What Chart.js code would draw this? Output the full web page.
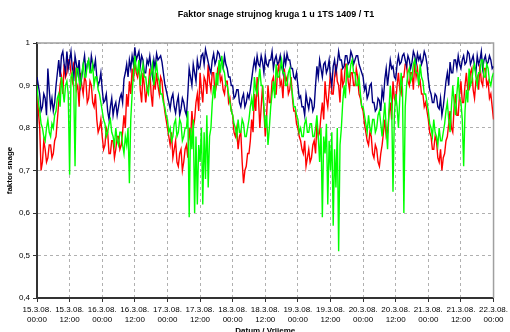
<!DOCTYPE html>
<html>
<head>
<meta charset="utf-8">
<title>Faktor snage</title>
<script src="https://cdn.jsdelivr.net/npm/chart.js@4.4.0/dist/chart.umd.min.js"></script>
<style>
  html, body { margin: 0; padding: 0; background: #fff; overflow: hidden; }
  #chart { display: block; }
</style>
</head>
<body>
<canvas id="chart" width="510" height="338"></canvas>
<script>
const chartTitle = 'Faktor snage strujnog kruga 1 u 1TS 1409 / T1';
const xTitle = 'Datum / Vrijeme';
const yTitle = 'faktor snage';

// x ticks every 12 h, from 15.3.08. 00:00 to 22.3.08. 00:00
const dayLabels = ['15.3.08.', '15.3.08.', '16.3.08.', '16.3.08.', '17.3.08.', '17.3.08.', '18.3.08.', '18.3.08.',
  '19.3.08.', '19.3.08.', '20.3.08.', '20.3.08.', '21.3.08.', '21.3.08.', '22.3.08.'];
const timeLabels = ['00:00', '12:00', '00:00', '12:00', '00:00', '12:00', '00:00', '12:00',
  '00:00', '12:00', '00:00', '12:00', '00:00', '12:00', '00:00'];
const yTickLabels = ['0,4', '0,5', '0,6', '0,7', '0,8', '0,9', '1'];

// readings every 30 min, one row per day
const stepHours = 0.5;
const blueValues = [
  0.92,0.90, 0.88,0.84, 0.85,0.88, 0.87,0.83, 0.94,0.89, 0.85,0.87, 0.84,0.86, 0.90,0.93, 0.96,0.92, 0.97,0.98, 0.95,0.93, 0.98,0.94, 0.96,0.98, 0.94,0.91, 0.97,0.95, 0.93,0.96, 0.90,0.92, 0.95,0.97, 0.93,0.95, 0.96,0.93, 0.97,0.95, 0.94,0.96, 0.92,0.90, 0.91,0.93,
  0.89,0.86, 0.865,0.88, 0.84,0.82, 0.85,0.87, 0.83,0.85, 0.86,0.83, 0.85,0.87, 0.88,0.86, 0.915,0.93, 0.95,0.92, 0.96,0.94, 0.97,0.95, 0.99,0.96, 0.97,0.98, 0.945,0.97, 0.96,0.93, 0.93,0.96, 0.95,0.97, 0.94,0.92, 0.96,0.94, 0.975,0.96, 0.965,0.97, 0.955,0.93, 0.905,0.89,
  0.875,0.86, 0.845,0.87, 0.88,0.85, 0.835,0.86, 0.875,0.83, 0.845,0.87, 0.86,0.84, 0.83,0.88, 0.94,0.92, 0.90,0.95, 0.93,0.91, 0.96,0.94, 0.945,0.97, 0.975,0.95, 0.985,0.97, 0.955,0.94, 0.93,0.96, 0.975,0.95, 0.96,0.98, 0.975,0.96, 0.955,0.94, 0.97,0.95, 0.94,0.92, 0.92,0.90,
  0.90,0.87, 0.875,0.89, 0.89,0.86, 0.85,0.87, 0.88,0.85, 0.86,0.88, 0.87,0.89, 0.915,0.94, 0.96,0.94, 0.97,0.95, 0.945,0.97, 0.955,0.93, 0.97,0.95, 0.945,0.96, 0.96,0.98, 0.94,0.96, 0.97,0.95, 0.955,0.97, 0.945,0.93, 0.97,0.95, 0.975,0.96, 0.96,0.94, 0.94,0.92, 0.915,0.93,
  0.90,0.87, 0.875,0.85, 0.85,0.83, 0.88,0.86, 0.845,0.87, 0.865,0.84, 0.85,0.90, 0.945,0.92, 0.96,0.94, 0.92,0.95, 0.955,0.93, 0.94,0.96, 0.92,0.90, 0.945,0.96, 0.93,0.95, 0.98,0.96, 0.96,0.94, 0.945,0.97, 0.97,0.95, 0.955,0.98, 0.97,0.95, 0.96,0.97, 0.97,0.95, 0.94,0.93,
  0.92,0.89, 0.90,0.87, 0.88,0.90, 0.905,0.86, 0.86,0.84, 0.845,0.87, 0.865,0.84, 0.89,0.87, 0.915,0.94, 0.90,0.93, 0.96,0.94, 0.945,0.92, 0.915,0.95, 0.97,0.95, 0.955,0.97, 0.975,0.96, 0.945,0.97, 0.96,0.94, 0.955,0.98, 0.97,0.95, 0.975,0.96, 0.97,0.95, 0.96,0.98, 0.97,0.95,
  0.915,0.89, 0.88,0.86, 0.86,0.88, 0.875,0.85, 0.845,0.87, 0.83,0.85, 0.88,0.91, 0.93,0.90, 0.955,0.93, 0.93,0.96, 0.96,0.94, 0.97,0.95, 0.94,0.96, 0.97,0.95, 0.955,0.98, 0.975,0.95, 0.96,0.97, 0.945,0.93, 0.97,0.95, 0.96,0.98, 0.94,0.96, 0.97,0.95, 0.955,0.97, 0.96,0.94,
  0.945
];
const redValues = [
  0.89,0.84, 0.80,0.70, 0.72,0.77, 0.75,0.72, 0.73,0.76, 0.76,0.73, 0.74,0.77, 0.78,0.82, 0.86,0.90, 0.92,0.88, 0.95,0.92, 0.93,0.96, 0.96,0.93, 0.91,0.95, 0.94,0.89, 0.90,0.85, 0.93,0.90, 0.88,0.92, 0.91,0.86, 0.87,0.91, 0.90,0.86, 0.85,0.88, 0.82,0.79, 0.80,0.82,
  0.78,0.75, 0.76,0.80, 0.79,0.74, 0.74,0.77, 0.77,0.73, 0.75,0.78, 0.78,0.75, 0.76,0.79, 0.83,0.80, 0.88,0.85, 0.91,0.88, 0.94,0.91, 0.96,0.93, 0.92,0.95, 0.89,0.86, 0.93,0.90, 0.86,0.89, 0.90,0.94, 0.88,0.85, 0.92,0.89, 0.93,0.90, 0.88,0.92, 0.91,0.87, 0.84,0.82,
  0.80,0.78, 0.76,0.79, 0.73,0.75, 0.77,0.72, 0.71,0.74, 0.75,0.70, 0.72,0.75, 0.76,0.73, 0.80,0.77, 0.84,0.80, 0.82,0.86, 0.88,0.84, 0.93,0.89, 0.86,0.92, 0.91,0.88, 0.95,0.91, 0.89,0.93, 0.93,0.88, 0.90,0.94, 0.95,0.91, 0.92,0.89, 0.88,0.91, 0.91,0.86, 0.87,0.84,
  0.83,0.79, 0.78,0.80, 0.75,0.78, 0.79,0.72, 0.67,0.70, 0.71,0.74, 0.74,0.77, 0.82,0.79, 0.88,0.84, 0.92,0.87, 0.80,0.85, 0.90,0.84, 0.78,0.83, 0.90,0.86, 0.86,0.91, 0.92,0.88, 0.88,0.93, 0.95,0.90, 0.91,0.87, 0.94,0.91, 0.92,0.88, 0.89,0.92, 0.87,0.84, 0.84,0.81,
  0.80,0.78, 0.77,0.75, 0.74,0.77, 0.71,0.73, 0.75,0.72, 0.73,0.76, 0.77,0.74, 0.81,0.78, 0.79,0.83, 0.86,0.82, 0.91,0.87, 0.85,0.89, 0.93,0.88, 0.88,0.92, 0.95,0.91, 0.90,0.86, 0.94,0.90, 0.91,0.95, 0.95,0.91, 0.89,0.93, 0.93,0.90, 0.90,0.94, 0.92,0.88, 0.87,0.85,
  0.84,0.81, 0.79,0.77, 0.76,0.79, 0.78,0.74, 0.73,0.76, 0.75,0.72, 0.71,0.74, 0.76,0.79, 0.82,0.78, 0.79,0.83, 0.86,0.82, 0.91,0.87, 0.86,0.90, 0.93,0.89, 0.88,0.92, 0.92,0.95, 0.95,0.91, 0.90,0.93, 0.93,0.89, 0.96,0.92, 0.94,0.90, 0.91,0.88, 0.88,0.85, 0.86,0.84,
  0.82,0.79, 0.78,0.75, 0.75,0.78, 0.77,0.73, 0.72,0.75, 0.70,0.73, 0.74,0.77, 0.78,0.81, 0.84,0.80, 0.79,0.85, 0.88,0.83, 0.83,0.88, 0.91,0.86, 0.86,0.90, 0.93,0.89, 0.89,0.93, 0.94,0.89, 0.87,0.91, 0.92,0.89, 0.95,0.91, 0.90,0.94, 0.94,0.90, 0.91,0.87, 0.88,0.85,
  0.82
];
const greenValues = [
  0.90,0.86, 0.84,0.81, 0.80,0.78, 0.77,0.80, 0.82,0.79, 0.78,0.81, 0.80,0.83, 0.84,0.87, 0.88,0.85, 0.92,0.89, 0.86,0.90, 0.91,0.88, 0.69,0.92, 0.93,0.90, 0.71,0.94, 0.94,0.91, 0.90,0.93, 0.95,0.92, 0.92,0.95, 0.96,0.93, 0.93,0.95, 0.90,0.92, 0.92,0.89, 0.88,0.86,
  0.84,0.82, 0.81,0.78, 0.79,0.81, 0.82,0.79, 0.78,0.76, 0.80,0.77, 0.76,0.79, 0.79,0.76, 0.74,0.78, 0.76,0.80, 0.67,0.82, 0.88,0.93, 0.97,0.94, 0.93,0.96, 0.90,0.93, 0.95,0.92, 0.92,0.89, 0.88,0.92, 0.93,0.95, 0.90,0.93, 0.95,0.92, 0.91,0.88, 0.88,0.86, 0.85,0.83,
  0.82,0.79, 0.80,0.77, 0.78,0.81, 0.82,0.78, 0.79,0.82, 0.81,0.77, 0.78,0.80, 0.80,0.84, 0.59,0.80, 0.75,0.82, 0.60,0.78, 0.62,0.76, 0.72,0.80, 0.62,0.79, 0.68,0.83, 0.66,0.78, 0.80,0.86, 0.90,0.87, 0.93,0.90, 0.96,0.93, 0.97,0.94, 0.93,0.90, 0.90,0.88, 0.86,0.84,
  0.83,0.81, 0.80,0.78, 0.82,0.79, 0.79,0.82, 0.81,0.78, 0.78,0.80, 0.82,0.85, 0.87,0.84, 0.92,0.89, 0.88,0.91, 0.94,0.90, 0.90,0.85, 0.80,0.83, 0.76,0.80, 0.85,0.88, 0.91,0.87, 0.95,0.92, 0.92,0.94, 0.96,0.93, 0.93,0.90, 0.90,0.93, 0.94,0.90, 0.88,0.85, 0.85,0.83,
  0.82,0.79, 0.80,0.78, 0.78,0.81, 0.82,0.79, 0.79,0.81, 0.81,0.78, 0.78,0.80, 0.83,0.78, 0.72,0.80, 0.59,0.78, 0.74,0.81, 0.62,0.77, 0.70,0.79, 0.57,0.75, 0.66,0.80, 0.51,0.76, 0.80,0.86, 0.90,0.87, 0.95,0.92, 0.92,0.95, 0.96,0.93, 0.93,0.90, 0.90,0.92, 0.88,0.85,
  0.85,0.83, 0.81,0.79, 0.83,0.80, 0.79,0.82, 0.82,0.79, 0.80,0.83, 0.84,0.81, 0.78,0.82, 0.86,0.80, 0.75,0.84, 0.90,0.86, 0.65,0.83, 0.88,0.85, 0.80,0.87, 0.93,0.89, 0.60,0.85, 0.90,0.93, 0.94,0.91, 0.92,0.95, 0.96,0.93, 0.93,0.90, 0.95,0.92, 0.91,0.88, 0.88,0.86,
  0.84,0.81, 0.80,0.78, 0.82,0.79, 0.78,0.76, 0.80,0.77, 0.77,0.79, 0.81,0.84, 0.86,0.82, 0.79,0.85, 0.90,0.86, 0.83,0.88, 0.92,0.87, 0.86,0.82, 0.71,0.84, 0.89,0.86, 0.94,0.90, 0.91,0.94, 0.95,0.92, 0.90,0.93, 0.93,0.96, 0.96,0.92, 0.92,0.95, 0.94,0.91, 0.90,0.92,
  0.93
];

const fontFamily = '"Liberation Sans", Arial, sans-serif';
const toPoints = values => values.map((v, i) => ({ x: i * stepHours, y: v }));

// chart title sits a bit right of centre, like in the original
const titlePlugin = {
  id: 'chartTitle',
  afterDraw(chart) {
    const ctx = chart.ctx;
    ctx.save();
    ctx.font = 'bold 9px ' + fontFamily;
    ctx.fillStyle = '#000';
    ctx.textAlign = 'center';
    ctx.textBaseline = 'middle';
    ctx.fillText(chartTitle, 276, 15);
    ctx.restore();
  }
};

// grey frame on the top and right of the plot area
const framePlugin = {
  id: 'plotFrame',
  beforeDatasetsDraw(chart) {
    const { ctx, chartArea: a } = chart;
    ctx.save();
    ctx.strokeStyle = '#a0a0a0';
    ctx.lineWidth = 1.5;
    ctx.beginPath();
    ctx.moveTo(a.left, a.top);
    ctx.lineTo(a.right, a.top);
    ctx.lineTo(a.right, a.bottom);
    ctx.stroke();
    ctx.restore();
  }
};

const lineStyle = { borderWidth: 1.4, pointRadius: 0, tension: 0, fill: false };

new Chart(document.getElementById('chart'), {
  type: 'line',
  data: {
    datasets: [
      { ...lineStyle, label: 'L3', data: toPoints(greenValues), borderColor: '#00ff00', order: 0 },
      { ...lineStyle, label: 'L1', data: toPoints(blueValues), borderColor: '#000080', order: 1 },
      { ...lineStyle, label: 'L2', data: toPoints(redValues), borderColor: '#ff0000', order: 2 }
    ]
  },
  options: {
    responsive: false,
    animation: false,
    layout: { autoPadding: false, padding: { left: 0, top: 43, right: 12, bottom: 0 } },
    plugins: { legend: { display: false }, tooltip: { enabled: false }, title: { display: false } },
    scales: {
      x: {
        type: 'linear',
        min: 0,
        max: 168,
        afterFit: scale => { scale.height = 40; },
        border: { display: true, color: '#333', width: 2, dash: [3, 3] },
        grid: { color: '#b0b0b0', lineWidth: 1, tickLength: 4, tickColor: '#333', tickBorderDash: [] },
        ticks: {
          stepSize: 12,
          autoSkip: false,
          maxRotation: 0,
          padding: 2,
          color: '#000',
          font: { family: fontFamily, size: 8, lineHeight: 1.35 },
          callback: v => [dayLabels[v / 12], timeLabels[v / 12]]
        },
        title: {
          display: true,
          text: xTitle,
          color: '#000',
          font: { family: fontFamily, size: 8, weight: 'bold' },
          padding: { top: 0, bottom: 2 }
        }
      },
      y: {
        min: 0.4,
        max: 1,
        afterFit: scale => { scale.width = 37; },
        border: { display: true, color: '#333', width: 2, dash: [3, 3] },
        grid: { color: '#b0b0b0', lineWidth: 1, tickLength: 4, tickColor: '#333', tickBorderDash: [] },
        ticks: {
          stepSize: 0.1,
          padding: 3,
          color: '#000',
          font: { family: fontFamily, size: 8 },
          callback: v => yTickLabels[Math.round((v - 0.4) * 10)]
        },
        title: {
          display: true,
          text: yTitle,
          color: '#000',
          font: { family: fontFamily, size: 8, weight: 'bold' },
          padding: { top: 5, bottom: 0 }
        }
      }
    }
  },
  plugins: [titlePlugin, framePlugin]
});
</script>
</body>
</html>
